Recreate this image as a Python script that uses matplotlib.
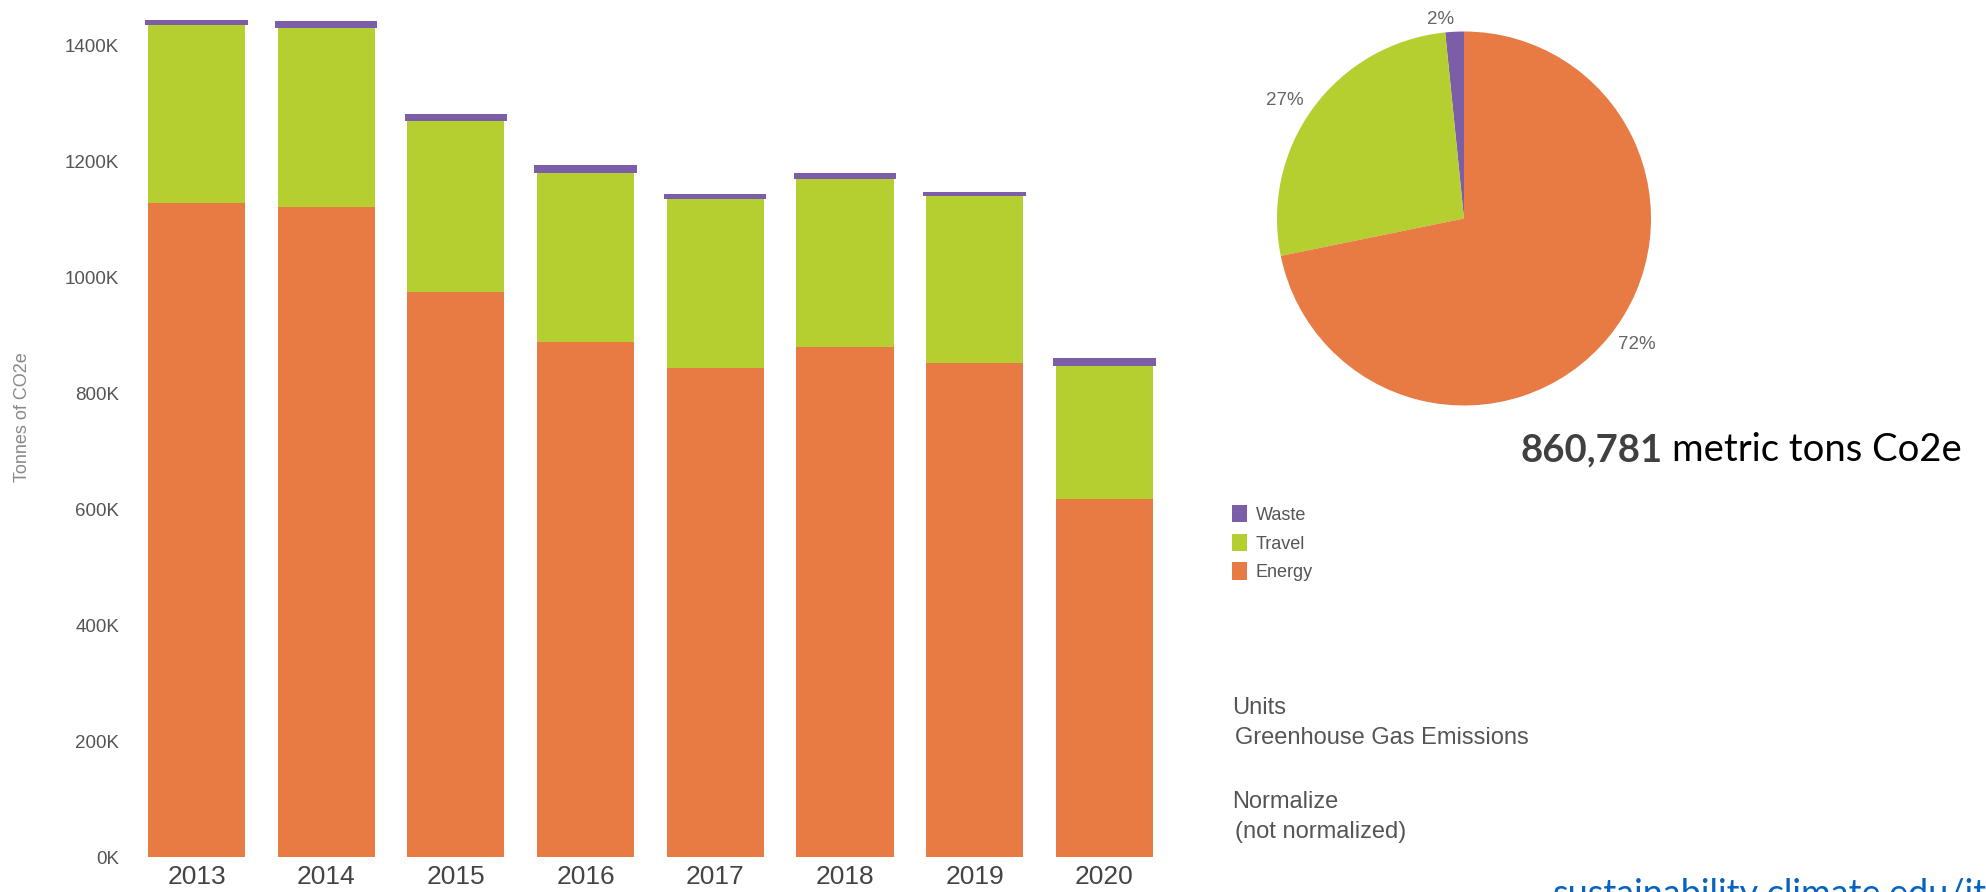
import numpy as np
import matplotlib
matplotlib.use('Agg')
import matplotlib.pyplot as plt
from matplotlib.ticker import FuncFormatter

plt.rcParams['font.family'] = 'Liberation Sans'

# emissions per year, thousands of tonnes CO2e
years = ['2013', '2014', '2015', '2016', '2017', '2018', '2019', '2020']
energy = [1127, 1120, 975, 888, 843, 880, 851, 618]
travel = [307, 310, 294, 292, 291, 289, 289, 229]
waste = [9, 11, 12, 13, 9, 10, 7, 13.8]
yticks = [0, 200, 400, 600, 800, 1000, 1200, 1400]
categories = ['Waste', 'Travel', 'Energy']
total_text = '860,781'

c_energy = '#E87A44'
c_travel = '#B4CF2F'
c_waste = '#7C5EA8'

W, H = 1986, 892
fig = plt.figure(figsize=(W / 100, H / 100), dpi=100)

# stacked bars
ax = fig.add_axes([131.6 / W, (H - 857) / H, 1037.6 / W, 857 / H])
x = np.arange(len(years))
energy = np.array(energy)
travel = np.array(travel)
waste = np.array(waste)
b_energy = ax.bar(x, energy, 0.75, color=c_energy, linewidth=0)
b_travel = ax.bar(x, travel, 0.75, bottom=energy, color=c_travel, linewidth=0)
b_waste = ax.bar(x, waste, 0.79, bottom=energy + travel, color=c_waste, linewidth=0)

ax.set_xlim(-0.5, len(years) - 0.5)
ax.set_ylim(0, 857 / 0.58)
ax.set_yticks(yticks)
ax.yaxis.set_major_formatter(FuncFormatter(lambda v, p: '%dK' % v))
ax.set_xticks(x)
ax.set_xticklabels(years)
ax.tick_params(axis='y', length=0, pad=9, labelsize=13.5, labelcolor='#555555')
ax.tick_params(axis='x', length=0, pad=6, labelsize=19, labelcolor='#444444')
for s in ax.spines.values():
    s.set_visible(False)

fig.text(23 / W, 1 - 417 / H, 'Tonnes of CO2e', rotation=90, ha='center', va='center',
         fontsize=13, color='#888888')

# pie of the latest year
cx, cy, r = 1464, 218.5, 187
pax = fig.add_axes([(cx - r) / W, (H - cy - r) / H, 2 * r / W, 2 * r / H])
latest = [waste[-1], travel[-1], energy[-1]]
wedges, _ = pax.pie(latest, colors=[c_waste, c_travel, c_energy], startangle=90,
                    counterclock=True, wedgeprops=dict(linewidth=0))
pax.set_xlim(-1, 1)
pax.set_ylim(-1, 1)
tot = sum(latest)
for w, v in zip(wedges, latest):
    mid = np.deg2rad((w.theta1 + w.theta2) / 2)
    lx, ly = 1.065 * np.cos(mid), 1.065 * np.sin(mid)
    pax.text(lx, ly, '%d%%' % round(100 * v / tot), ha='right' if lx < 0 else 'left',
             va='center', fontsize=13.5, color='#666666')

# legend
fig.legend([b_waste, b_travel, b_energy], categories, loc='upper left',
           bbox_to_anchor=(1232 / W, 1 - 505 / H), frameon=False, fontsize=13,
           labelcolor='#555555', handlelength=0.85, handleheight=1.1,
           handletextpad=0.45, labelspacing=0.55, borderpad=0, borderaxespad=0)

# side notes
fig.text(1232 / W, 1 - 708 / H, 'Units', fontsize=17, color='#555555', va='center')
fig.text(1235 / W, 1 - 738 / H, 'Greenhouse Gas Emissions', fontsize=17, color='#555555', va='center')
fig.text(1232 / W, 1 - 802 / H, 'Normalize', fontsize=17, color='#555555', va='center')
fig.text(1235 / W, 1 - 832 / H, '(not normalized)', fontsize=17, color='#555555', va='center')

# headline number
t1 = fig.text(1520 / W, 1 - 461 / H, total_text, fontsize=27.5, family='Lato', weight='bold',
              color='#404040', va='baseline')
fig.canvas.draw()
bb = t1.get_window_extent()
fig.text((bb.x1 + 10) / W, 1 - 461 / H, 'metric tons Co2e', fontsize=27.5, family='Lato',
         color='black', va='baseline')

# link cut off at the bottom edge, as in the source slide
fig.text(1553 / W, 1 - 905 / H, 'sustainability.climate.edu/it', fontsize=26, family='Lato',
         color='#0563C1', va='baseline')

fig.savefig('out.png', dpi=100, facecolor='white')
